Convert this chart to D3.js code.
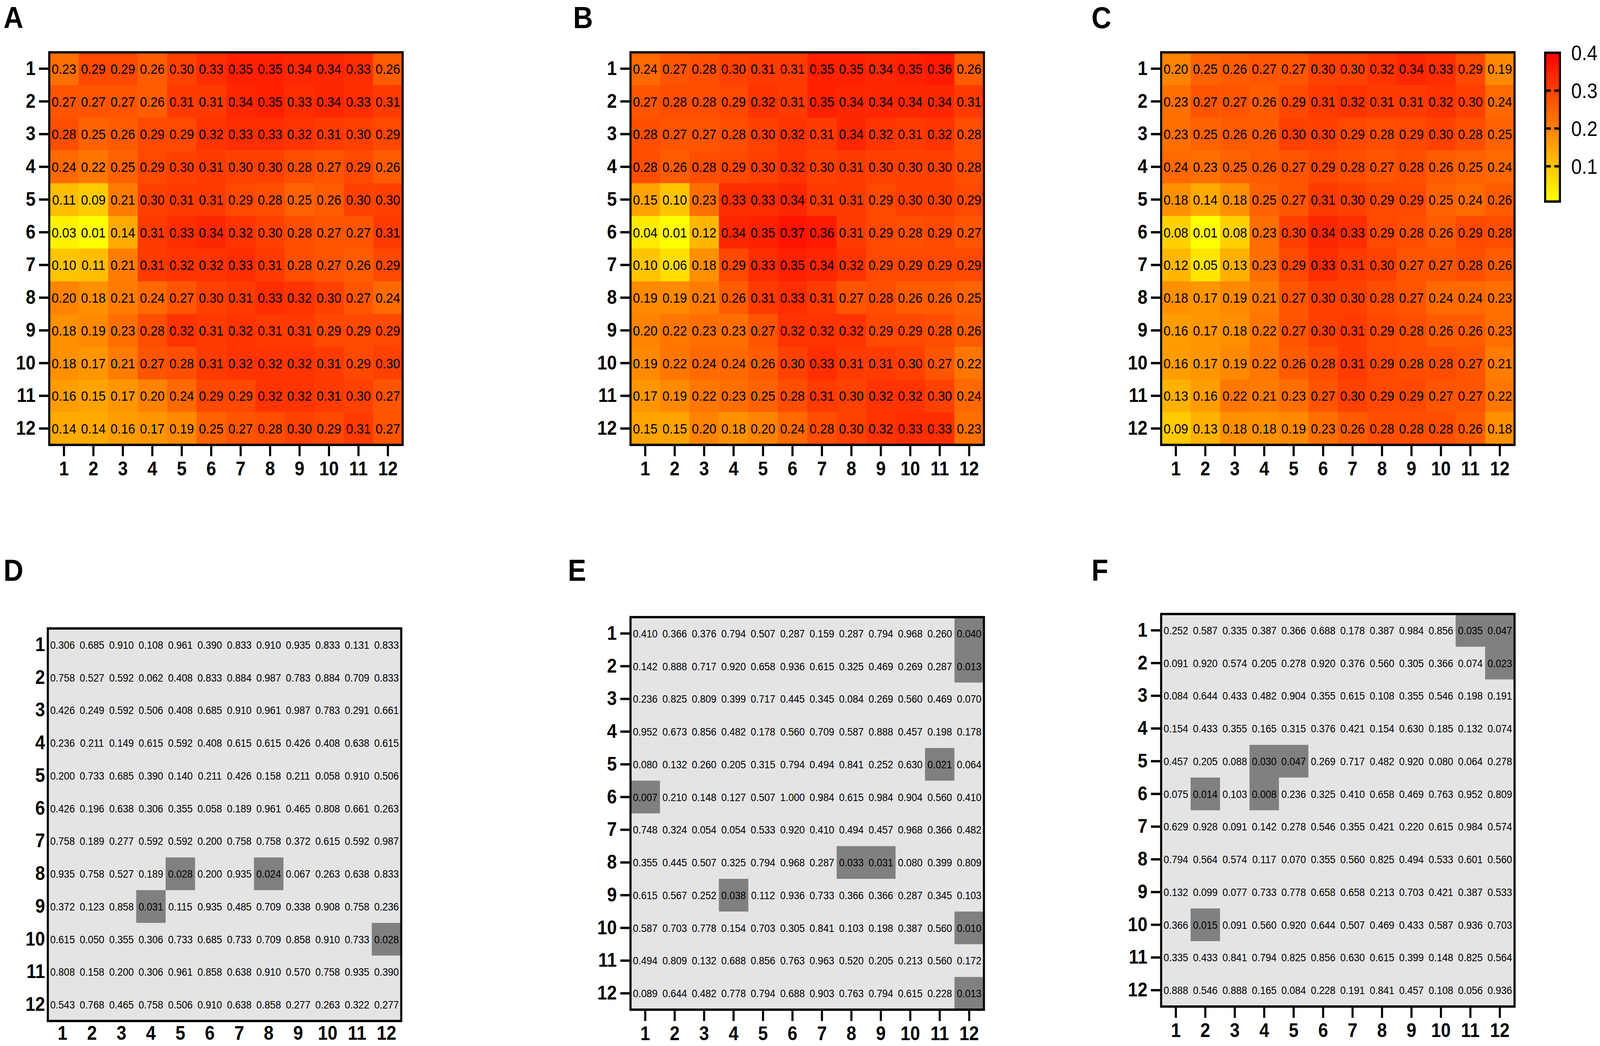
<!DOCTYPE html>
<html>
<head>
<meta charset="utf-8">
<script src="https://cdn.jsdelivr.net/npm/d3@7"></script>
<style>
html, body { margin: 0; padding: 0; background: #fff; overflow: hidden; }
svg { display: block; width: 100vw; height: 100vh; }
text { font-family: "Liberation Sans", Arial, Helvetica, sans-serif; }
</style>
</head>
<body>
<svg id="chart" viewBox="0 0 4550 2678" preserveAspectRatio="none"></svg>
<script>
// tick labels
var rowLabels = ["1","2","3","4","5","6","7","8","9","10","11","12"];
var colLabels = ["1","2","3","4","5","6","7","8","9","10","11","12"];
var colorTicks = [0.1, 0.2, 0.3, 0.4];

// panel A-C values
var valuesA = [
 [0.23,0.29,0.29,0.26,0.30,0.33,0.35,0.35,0.34,0.34,0.33,0.26],
 [0.27,0.27,0.27,0.26,0.31,0.31,0.34,0.35,0.33,0.34,0.33,0.31],
 [0.28,0.25,0.26,0.29,0.29,0.32,0.33,0.33,0.32,0.31,0.30,0.29],
 [0.24,0.22,0.25,0.29,0.30,0.31,0.30,0.30,0.28,0.27,0.29,0.26],
 [0.11,0.09,0.21,0.30,0.31,0.31,0.29,0.28,0.25,0.26,0.30,0.30],
 [0.03,0.01,0.14,0.31,0.33,0.34,0.32,0.30,0.28,0.27,0.27,0.31],
 [0.10,0.11,0.21,0.31,0.32,0.32,0.33,0.31,0.28,0.27,0.26,0.29],
 [0.20,0.18,0.21,0.24,0.27,0.30,0.31,0.33,0.32,0.30,0.27,0.24],
 [0.18,0.19,0.23,0.28,0.32,0.31,0.32,0.31,0.31,0.29,0.29,0.29],
 [0.18,0.17,0.21,0.27,0.28,0.31,0.32,0.32,0.32,0.31,0.29,0.30],
 [0.16,0.15,0.17,0.20,0.24,0.29,0.29,0.32,0.32,0.31,0.30,0.27],
 [0.14,0.14,0.16,0.17,0.19,0.25,0.27,0.28,0.30,0.29,0.31,0.27]
];
var valuesB = [
 [0.24,0.27,0.28,0.30,0.31,0.31,0.35,0.35,0.34,0.35,0.36,0.26],
 [0.27,0.28,0.28,0.29,0.32,0.31,0.35,0.34,0.34,0.34,0.34,0.31],
 [0.28,0.27,0.27,0.28,0.30,0.32,0.31,0.34,0.32,0.31,0.32,0.28],
 [0.28,0.26,0.28,0.29,0.30,0.32,0.30,0.31,0.30,0.30,0.30,0.28],
 [0.15,0.10,0.23,0.33,0.33,0.34,0.31,0.31,0.29,0.30,0.30,0.29],
 [0.04,0.01,0.12,0.34,0.35,0.37,0.36,0.31,0.29,0.28,0.29,0.27],
 [0.10,0.06,0.18,0.29,0.33,0.35,0.34,0.32,0.29,0.29,0.29,0.29],
 [0.19,0.19,0.21,0.26,0.31,0.33,0.31,0.27,0.28,0.26,0.26,0.25],
 [0.20,0.22,0.23,0.23,0.27,0.32,0.32,0.32,0.29,0.29,0.28,0.26],
 [0.19,0.22,0.24,0.24,0.26,0.30,0.33,0.31,0.31,0.30,0.27,0.22],
 [0.17,0.19,0.22,0.23,0.25,0.28,0.31,0.30,0.32,0.32,0.30,0.24],
 [0.15,0.15,0.20,0.18,0.20,0.24,0.28,0.30,0.32,0.33,0.33,0.23]
];
var valuesC = [
 [0.20,0.25,0.26,0.27,0.27,0.30,0.30,0.32,0.34,0.33,0.29,0.19],
 [0.23,0.27,0.27,0.26,0.29,0.31,0.32,0.31,0.31,0.32,0.30,0.24],
 [0.23,0.25,0.26,0.26,0.30,0.30,0.29,0.28,0.29,0.30,0.28,0.25],
 [0.24,0.23,0.25,0.26,0.27,0.29,0.28,0.27,0.28,0.26,0.25,0.24],
 [0.18,0.14,0.18,0.25,0.27,0.31,0.30,0.29,0.29,0.25,0.24,0.26],
 [0.08,0.01,0.08,0.23,0.30,0.34,0.33,0.29,0.28,0.26,0.29,0.28],
 [0.12,0.05,0.13,0.23,0.29,0.33,0.31,0.30,0.27,0.27,0.28,0.26],
 [0.18,0.17,0.19,0.21,0.27,0.30,0.30,0.28,0.27,0.24,0.24,0.23],
 [0.16,0.17,0.18,0.22,0.27,0.30,0.31,0.29,0.28,0.26,0.26,0.23],
 [0.16,0.17,0.19,0.22,0.26,0.28,0.31,0.29,0.28,0.28,0.27,0.21],
 [0.13,0.16,0.22,0.21,0.23,0.27,0.30,0.29,0.29,0.27,0.27,0.22],
 [0.09,0.13,0.18,0.18,0.19,0.23,0.26,0.28,0.28,0.28,0.26,0.18]
];

// panel D-F p values
var pvalD = [
 [0.306,0.685,0.910,0.108,0.961,0.390,0.833,0.910,0.935,0.833,0.131,0.833],
 [0.758,0.527,0.592,0.062,0.408,0.833,0.884,0.987,0.783,0.884,0.709,0.833],
 [0.426,0.249,0.592,0.506,0.408,0.685,0.910,0.961,0.987,0.783,0.291,0.661],
 [0.236,0.211,0.149,0.615,0.592,0.408,0.615,0.615,0.426,0.408,0.638,0.615],
 [0.200,0.733,0.685,0.390,0.140,0.211,0.426,0.158,0.211,0.058,0.910,0.506],
 [0.426,0.196,0.638,0.306,0.355,0.058,0.189,0.961,0.465,0.808,0.661,0.263],
 [0.758,0.189,0.277,0.592,0.592,0.200,0.758,0.758,0.372,0.615,0.592,0.987],
 [0.935,0.758,0.527,0.189,0.028,0.200,0.935,0.024,0.067,0.263,0.638,0.833],
 [0.372,0.123,0.858,0.031,0.115,0.935,0.485,0.709,0.338,0.908,0.758,0.236],
 [0.615,0.050,0.355,0.306,0.733,0.685,0.733,0.709,0.858,0.910,0.733,0.028],
 [0.808,0.158,0.200,0.306,0.961,0.858,0.638,0.910,0.570,0.758,0.935,0.390],
 [0.543,0.768,0.465,0.758,0.506,0.910,0.638,0.858,0.277,0.263,0.322,0.277]
];
var pvalE = [
 [0.410,0.366,0.376,0.794,0.507,0.287,0.159,0.287,0.794,0.968,0.260,0.040],
 [0.142,0.888,0.717,0.920,0.658,0.936,0.615,0.325,0.469,0.269,0.287,0.013],
 [0.236,0.825,0.809,0.399,0.717,0.445,0.345,0.084,0.269,0.560,0.469,0.070],
 [0.952,0.673,0.856,0.482,0.178,0.560,0.709,0.587,0.888,0.457,0.198,0.178],
 [0.080,0.132,0.260,0.205,0.315,0.794,0.494,0.841,0.252,0.630,0.021,0.064],
 [0.007,0.210,0.148,0.127,0.507,1.000,0.984,0.615,0.984,0.904,0.560,0.410],
 [0.748,0.324,0.054,0.054,0.533,0.920,0.410,0.494,0.457,0.968,0.366,0.482],
 [0.355,0.445,0.507,0.325,0.794,0.968,0.287,0.033,0.031,0.080,0.399,0.809],
 [0.615,0.567,0.252,0.038,0.112,0.936,0.733,0.366,0.366,0.287,0.345,0.103],
 [0.587,0.703,0.778,0.154,0.703,0.305,0.841,0.103,0.198,0.387,0.560,0.010],
 [0.494,0.809,0.132,0.688,0.856,0.763,0.963,0.520,0.205,0.213,0.560,0.172],
 [0.089,0.644,0.482,0.778,0.794,0.688,0.903,0.763,0.794,0.615,0.228,0.013]
];
var pvalF = [
 [0.252,0.587,0.335,0.387,0.366,0.688,0.178,0.387,0.984,0.856,0.035,0.047],
 [0.091,0.920,0.574,0.205,0.278,0.920,0.376,0.560,0.305,0.366,0.074,0.023],
 [0.084,0.644,0.433,0.482,0.904,0.355,0.615,0.108,0.355,0.546,0.198,0.191],
 [0.154,0.433,0.355,0.165,0.315,0.376,0.421,0.154,0.630,0.185,0.132,0.074],
 [0.457,0.205,0.088,0.030,0.047,0.269,0.717,0.482,0.920,0.080,0.064,0.278],
 [0.075,0.014,0.103,0.008,0.236,0.325,0.410,0.658,0.469,0.763,0.952,0.809],
 [0.629,0.928,0.091,0.142,0.278,0.546,0.355,0.421,0.220,0.615,0.984,0.574],
 [0.794,0.564,0.574,0.117,0.070,0.355,0.560,0.825,0.494,0.533,0.601,0.560],
 [0.132,0.099,0.077,0.733,0.778,0.658,0.658,0.213,0.703,0.421,0.387,0.533],
 [0.366,0.015,0.091,0.560,0.920,0.644,0.507,0.469,0.433,0.587,0.936,0.703],
 [0.335,0.433,0.841,0.794,0.825,0.856,0.630,0.615,0.399,0.148,0.825,0.564],
 [0.888,0.546,0.888,0.165,0.084,0.228,0.191,0.841,0.457,0.108,0.056,0.936]
];

var svg = d3.select("#chart");
var size = 1005;

var heat = d3.scaleLinear().domain([0.01, 0.4]).range(["#ffff00", "#ff0000"]).clamp(true);
var pFill = function(v){ return v < 0.05 ? "#808080" : "#e4e4e4"; };

function drawPanel(letter, values, o)
{
    var g = svg.append("g").attr("transform", "translate(" + o.x + "," + o.y + ")");
    var x = d3.scaleBand().domain(colLabels).range([0, size]);
    var y = d3.scaleBand().domain(rowLabels).range([0, size]);

    var cells = [];
    values.forEach(function(r, i){
        r.forEach(function(v, j){ cells.push({row: rowLabels[i], col: colLabels[j], v: v}); });
    });

    g.selectAll("rect.cell")
        .data(cells)
        .enter().append("rect")
        .attr("class", "cell")
        .attr("x", function(d){ return x(d.col); })
        .attr("y", function(d){ return y(d.row); })
        .attr("width", x.bandwidth() + 0.5)
        .attr("height", y.bandwidth() + 0.5)
        .style("fill", function(d){ return o.fill(d.v); });

    g.selectAll("text.val")
        .data(cells)
        .enter().append("text")
        .attr("class", "val")
        .attr("x", function(d){ return x(d.col) + x.bandwidth() / 2; })
        .attr("y", function(d){ return y(d.row) + y.bandwidth() / 2; })
        .attr("dy", "0.36em")
        .attr("text-anchor", "middle")
        .style("font-size", o.fontSize + "px")
        .style("fill", "#000")
        .text(function(d){ return d3.format(o.fmt)(d.v); });

    g.append("rect")
        .attr("width", size)
        .attr("height", size)
        .style("fill", "none")
        .attr("stroke", "black")
        .attr("stroke-width", 6);

    var ax = g.append("g")
        .attr("transform", "translate(-3,0)")
        .call(d3.axisLeft(y).tickSize(o.tick).tickPadding(o.tick ? 10 : 5));
    var bx = g.append("g")
        .attr("transform", "translate(0," + (size + 3) + ")")
        .call(d3.axisBottom(x).tickSize(o.tick).tickPadding(o.tick ? 14 : 10));
    [ax, bx].forEach(function(a){
        a.select(".domain").remove();
        a.selectAll(".tick line").attr("stroke", "black").attr("stroke-width", 6);
        a.selectAll(".tick text")
            .style("font-size", "50px")
            .style("font-weight", "bold")
            .style("font-family", "'Liberation Sans', Arial, sans-serif")
            .style("fill", "#000");
    });

    svg.append("text")
        .attr("x", o.lx)
        .attr("y", o.ly)
        .style("font-size", "78px")
        .style("font-weight", "bold")
        .text(letter);
}

var top3 = {fill: heat, fmt: ".2f", fontSize: 36, tick: 26};
var bottom3 = {fill: pFill, fmt: ".3f", fontSize: 28, tick: 26};

drawPanel("A", valuesA, Object.assign({}, top3, {x: 140, y: 134, lx: 10, ly: 72}));
drawPanel("B", valuesB, Object.assign({}, top3, {x: 1793, y: 134, lx: 1630, ly: 72}));
drawPanel("C", valuesC, Object.assign({}, top3, {x: 3302, y: 134, lx: 3104, ly: 72}));
drawPanel("D", pvalD, Object.assign({}, bottom3, {x: 136, y: 1609, tick: 0, lx: 10, ly: 1487}));
drawPanel("E", pvalE, Object.assign({}, bottom3, {x: 1793, y: 1580, lx: 1615, ly: 1487}));
drawPanel("F", pvalF, Object.assign({}, bottom3, {x: 3302, y: 1572, lx: 3104, ly: 1487}));

// colour bar
var cb = {x: 4394, y: 135, w: 42, h: 381};
var cbScale = d3.scaleLinear().domain([0.007, 0.4]).range([cb.h, 0]);
var grad = svg.append("defs").append("linearGradient")
    .attr("id", "heatgrad")
    .attr("x1", 0).attr("y1", 1).attr("x2", 0).attr("y2", 0);
grad.selectAll("stop")
    .data(d3.range(0, 1.0001, 0.1))
    .enter().append("stop")
    .attr("offset", function(t){ return t; })
    .attr("stop-color", function(t){ return heat(cbScale.invert(cb.h * (1 - t))); });

var cbg = svg.append("g").attr("transform", "translate(" + cb.x + "," + cb.y + ")");
cbg.append("rect")
    .attr("width", cb.w)
    .attr("height", cb.h)
    .style("fill", "url(#heatgrad)")
    .attr("stroke", "black")
    .attr("stroke-width", 6);
cbg.selectAll("line.cbtick")
    .data(colorTicks.slice(0, 3))
    .enter().append("line")
    .attr("class", "cbtick")
    .attr("x1", 3).attr("x2", cb.w - 3)
    .attr("y1", function(d){ return cbScale(d); })
    .attr("y2", function(d){ return cbScale(d); })
    .attr("stroke", "black")
    .attr("stroke-width", 6)
    .attr("stroke-dasharray", "13,10");
cbg.selectAll("text.cblab")
    .data(colorTicks)
    .enter().append("text")
    .attr("class", "cblab")
    .attr("x", cb.w + 32)
    .attr("y", function(d){ return cbScale(d); })
    .attr("dy", "0.36em")
    .style("font-size", "54px")
    .text(function(d){ return d3.format(".1f")(d); });
</script>
</body>
</html>
